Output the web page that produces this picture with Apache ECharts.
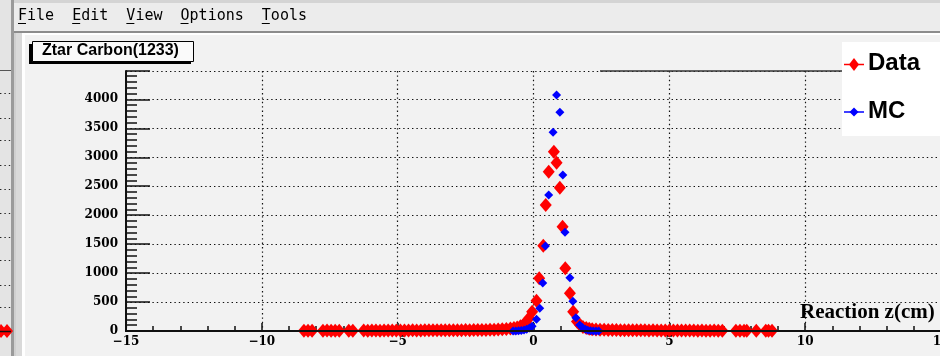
<!DOCTYPE html>
<html>
<head>
<meta charset="utf-8">
<title>Ztar Carbon(1233)</title>
<script src="https://cdn.jsdelivr.net/npm/echarts@6/dist/echarts.min.js"></script>
<style>
  html, body { margin: 0; padding: 0; background: #f2f2f2; }
  #chart { width: 940px; height: 356px; }
</style>
</head>
<body>
<div id="chart"></div>
<script>
// Reconstructed z-vertex distribution, carbon target run 1233
const histTitle = 'Ztar Carbon(1233)';
const xAxisTitle = 'Reaction z(cm)';
const menuItems = ['File', 'Edit', 'View', 'Options', 'Tools'];
const legendNames = ['Data', 'MC'];

// Data: reconstructed z (cm) and counts
const dataX = [
  -8.45, -8.3, -8.15,
  -7.75, -7.6, -7.45, -7.3, -7.15,
  -6.8, -6.65,
  -6.25, -6.1, -5.95, -5.8, -5.65, -5.5, -5.35, -5.2, -5.05, -4.9,
  -4.75, -4.6, -4.45, -4.3, -4.15, -4.0, -3.85, -3.7, -3.55, -3.4,
  -3.25, -3.1, -2.95, -2.8, -2.65, -2.5, -2.35, -2.2, -2.05, -1.9,
  -1.75, -1.6, -1.45, -1.3, -1.15, -1.0, -0.85,
  -0.72, -0.6, -0.48, -0.38, -0.29, -0.17, -0.05,
  0.11, 0.21, 0.36, 0.45, 0.56, 0.75, 0.85, 0.97, 1.07, 1.17, 1.34, 1.46,
  1.6, 1.72, 1.82, 1.94, 2.05, 2.16,
  2.3, 2.45, 2.6, 2.75, 2.9, 3.05, 3.2, 3.35, 3.5, 3.65, 3.8, 3.95, 4.1, 4.25, 4.4, 4.55,
  4.7, 4.85, 5.0, 5.15, 5.3, 5.45, 5.6, 5.75, 5.9, 6.05, 6.2, 6.35, 6.5, 6.65, 6.8, 6.95,
  7.45, 7.6, 7.75, 7.85,
  8.2,
  8.55, 8.65, 8.78
];
const dataY = [
  3, 5, 4,
  4, 7, 5, 6, 5,
  6, 5,
  8, 6, 7, 9, 6, 8, 7, 9, 8, 10,
  9, 8, 11, 10, 9, 12, 11, 13, 12, 14,
  13, 12, 14, 15, 13, 16, 15, 17, 18, 17,
  19, 21, 23, 26, 30, 35, 42,
  50, 62, 80, 105, 140, 219, 334,
  524, 910, 1473, 2176, 2752, 3097, 2907, 2475, 1801, 1083, 651, 334,
  165, 100, 70, 50, 40, 30,
  24, 22, 20, 19, 18, 16, 15, 14, 14, 13, 12, 13, 11, 10, 11, 10,
  9, 10, 8, 9, 8, 7, 9, 7, 8, 6, 7, 6, 5, 7, 5, 6,
  4, 5, 4, 5,
  4,
  3, 4, 3
];

// MC: simulated z (cm) and counts
const mcX = [
  -0.75, -0.65, -0.55, -0.45, -0.35, -0.25, -0.15, -0.05, 0.11, 0.23, 0.34, 0.44, 0.56,
  0.72, 0.85, 0.97, 1.08, 1.16, 1.34, 1.45, 1.56, 1.7, 1.8, 1.91, 2.0, 2.1, 2.2, 2.3, 2.4
];
const mcY = [
  0, 0, 3, 8, 18, 30, 52, 80, 205, 392, 830, 1470, 2349,
  3432, 4076, 3777, 2694, 1705, 920, 515, 230, 104, 60, 29, 15, 6, 2, 0, 0
];

const pairs = (xs, ys) => xs.map((x, i) => [x, ys[i]]);

const chart = echarts.init(document.getElementById('chart'), null, { renderer: 'canvas' });

const dotted = { color: '#111', width: 1.2, type: [1.4, 3] };
const tickFont = { fontFamily: 'DejaVu Serif', fontWeight: 'bold', fontSize: 12, color: '#000' };
const minus = v => (v < 0 ? '\u2212' + Math.abs(v) : String(v));

// Window chrome: menu bar, side strip and pad borders
const chrome = [
  { type: 'rect', shape: { x: 0, y: 0, width: 940, height: 32 }, style: { fill: '#ececec' }, z: 1 },
  { type: 'rect', shape: { x: 0, y: 0, width: 940, height: 3 }, style: { fill: '#d4d4d4' }, z: 1 },
  { type: 'rect', shape: { x: 0, y: 0, width: 12, height: 356 }, style: { fill: '#e4e4e4' }, z: 1 },
  { type: 'rect', shape: { x: 11, y: 0, width: 3, height: 356 }, style: { fill: '#9a9a9a' }, z: 1 },
  { type: 'rect', shape: { x: 14, y: 33, width: 2, height: 323 }, style: { fill: '#cfcfcf' }, z: 1 },
  { type: 'rect', shape: { x: 16, y: 33, width: 6, height: 323 }, style: { fill: '#d9d9d9' }, z: 1 },
  { type: 'rect', shape: { x: 22, y: 33, width: 3, height: 323 }, style: { fill: '#ffffff' }, z: 1 },
  { type: 'rect', shape: { x: 14, y: 31, width: 926, height: 2 }, style: { fill: '#8c8c8c' }, z: 1 },
  { type: 'rect', shape: { x: 25, y: 33, width: 915, height: 2 }, style: { fill: '#ffffff' }, z: 1 },
  { type: 'line', shape: { x1: 0, y1: 70.5, x2: 11, y2: 70.5 }, style: { stroke: '#555', lineWidth: 1 }, z: 2 },
  {
    type: 'text', left: 18, top: 9, z: 3,
    style: { text: menuItems.join('  '), font: '15px "DejaVu Sans Mono"', fill: '#000' }
  }
];
// underline the mnemonic letter of each menu entry
let col = 0;
menuItems.forEach(name => {
  const x0 = 18 + col * 9.03;
  chrome.push({ type: 'line', shape: { x1: x0, y1: 23.5, x2: x0 + 8, y2: 23.5 }, style: { stroke: '#000', lineWidth: 1 }, z: 3 });
  col += name.length + 2;
});
// dotted grid of the neighbouring pad on the left strip
[93, 118, 140, 165, 189, 213, 237, 260, 285, 307].forEach(y => {
  chrome.push({ type: 'line', shape: { x1: 0, y1: y + 0.5, x2: 11, y2: y + 0.5 }, style: { stroke: '#222', lineWidth: 1.2, lineDash: [1.4, 3] }, z: 2 });
});
[1, 7].forEach(cx => {
  chrome.push({ type: 'polygon', shape: { points: [[cx - 6, 331], [cx, 324], [cx + 6, 331], [cx, 338]] }, style: { fill: '#ff0000' }, z: 2 });
});
chrome.push({ type: 'line', shape: { x1: 0, y1: 331.5, x2: 11, y2: 331.5 }, style: { stroke: '#111', lineWidth: 1.5 }, z: 2 });

// Histogram title box with shadow
const titleBox = [
  { type: 'rect', shape: { x: 29, y: 44, width: 162, height: 20 }, style: { fill: '#000' }, z: 20 },
  { type: 'rect', shape: { x: 32.5, y: 41.5, width: 161, height: 20 }, style: { fill: '#fafafa', stroke: '#000', lineWidth: 1 }, z: 21 },
  {
    type: 'text', left: 42, top: 43, z: 22,
    style: { text: histTitle, font: 'bold 16px "Liberation Sans"', fill: '#000' }
  }
];

// Legend box
const legendBox = [
  { type: 'rect', shape: { x: 842, y: 42, width: 98, height: 94 }, style: { fill: '#ffffff' }, z: 20 },
  { type: 'line', shape: { x1: 844, y1: 64.5, x2: 864, y2: 64.5 }, style: { stroke: '#ff0000', lineWidth: 1.5 }, z: 21 },
  { type: 'polygon', shape: { points: [[849, 64.5], [854, 58], [859, 64.5], [854, 71]] }, style: { fill: '#ff0000' }, z: 22 },
  {
    type: 'text', left: 868, top: 51, z: 22,
    style: { text: legendNames[0], font: 'bold 24px "Liberation Sans"', fill: '#000' }
  },
  { type: 'line', shape: { x1: 844, y1: 112, x2: 864, y2: 112 }, style: { stroke: '#0000ff', lineWidth: 1.5 }, z: 21 },
  { type: 'polygon', shape: { points: [[849.5, 112], [854, 107.5], [858.5, 112], [854, 116.5]] }, style: { fill: '#0000ff' }, z: 22 },
  {
    type: 'text', left: 868, top: 99, z: 22,
    style: { text: legendNames[1], font: 'bold 24px "Liberation Sans"', fill: '#000' }
  }
];

// Frame top edge and axis title
const frameBits = [
  { type: 'line', shape: { x1: 600, y1: 71, x2: 842, y2: 71 }, style: { stroke: '#333', lineWidth: 1.5 }, z: 5 },
  {
    type: 'text', left: 800, top: 302, z: 15,
    style: { text: xAxisTitle, font: 'bold 21px "Liberation Serif"', fill: '#000' }
  }
];

chart.setOption({
  backgroundColor: '#f2f2f2',
  animation: false,
  grid: { left: 126, right: -1, top: 71, bottom: 25, containLabel: false, outerBoundsMode: 'none' },
  xAxis: [
    {
      type: 'value', min: -15, max: 15, interval: 5,
      axisLine: { show: true, onZero: false, lineStyle: { color: '#111', width: 2 } },
      axisTick: { show: true, inside: true, length: 8, lineStyle: { color: '#111', width: 1.5 } },
      minorTick: { show: true, splitNumber: 5, length: 5, lineStyle: { color: '#111', width: 1.5 } },
      axisLabel: Object.assign({ margin: 5, formatter: minus }, tickFont),
      splitLine: { show: true, lineStyle: dotted }
    },
    {
      // solid axis line drawn over the markers
      type: 'value', min: -15, max: 15, position: 'bottom', z: 10,
      axisLine: { show: true, onZero: false, lineStyle: { color: '#111', width: 2 } },
      axisTick: { show: false }, axisLabel: { show: false }, splitLine: { show: false }
    }
  ],
  yAxis: {
    type: 'value', min: 0, max: 4490, interval: 500,
    axisLine: { show: true, onZero: false, lineStyle: { color: '#111', width: 2 } },
    axisTick: { show: true, inside: true, length: 24, lineStyle: { color: '#111', width: 1.5 } },
    minorTick: { show: true, splitNumber: 5, length: 11, lineStyle: { color: '#111', width: 1.5 } },
    axisLabel: Object.assign({ margin: 8, showMaxLabel: false, formatter: v => String(v) }, tickFont),
    splitLine: { show: true, lineStyle: dotted }
  },
  series: [
    {
      name: legendNames[0], type: 'scatter', symbol: 'diamond', symbolSize: [12, 14],
      itemStyle: { color: '#ff0000', opacity: 1 }, data: pairs(dataX, dataY), z: 3
    },
    {
      name: legendNames[1], type: 'scatter', symbol: 'diamond', symbolSize: [9, 9],
      itemStyle: { color: '#0000ff', opacity: 1 }, data: pairs(mcX, mcY), z: 4
    }
  ],
  graphic: chrome.concat(titleBox, legendBox, frameBits)
});
</script>
</body>
</html>
